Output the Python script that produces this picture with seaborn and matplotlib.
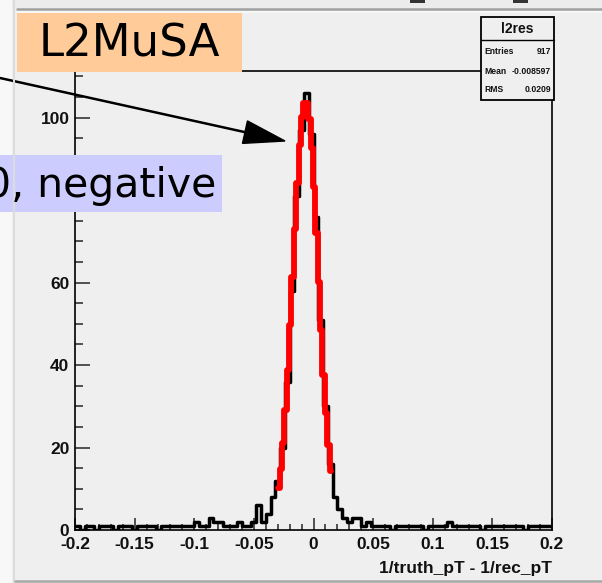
import numpy as np
import pandas as pd
import matplotlib
matplotlib.use("Agg")
import matplotlib.pyplot as plt
from matplotlib.patches import Rectangle
from matplotlib.ticker import MultipleLocator, FixedLocator
import seaborn as sns

# ---- histogram: 100 bins of width 0.004 on [-0.2, 0.2] ----
bin_edges_lo = -0.2
bin_edges_hi = 0.2
n_bins = 100

left_tail = [1, 0, 1, 1, 0, 1, 1, 1, 0, 1,
             1, 1, 0, 1, 1, 1, 1, 0, 1, 1,
             1, 1, 1, 1, 1, 2, 1, 1, 3, 2,
             2, 1, 1, 1, 2, 1, 1]
core = [2, 6, 2, 4, 8, 12, 20, 36, 58, 81,
        97, 106, 96, 76, 51, 30, 16, 8, 5, 3,
        2, 3, 3, 1, 2, 1]
right_tail = [1, 1, 1, 0, 1, 1, 1, 1, 1, 1,
              0, 1, 1, 1, 1, 2, 1, 1, 1, 1,
              1, 1, 0, 1, 1, 1, 1, 1, 1, 1,
              1, 0, 1, 1, 1, 1, 1]
counts = left_tail + core + right_tail

# gaussian fit result
fit_constant = 104.0
fit_mean = -0.0066
fit_sigma = 0.0106
fit_lo, fit_hi = -0.0295, 0.0160

# statistics box
stats_title = "l2res"
stats_rows = [("Entries", "917"), ("Mean", "-0.008597"), ("RMS", "0.0209")]

x_ticks = [-0.2, -0.15, -0.1, -0.05, 0, 0.05, 0.1, 0.15, 0.2]
x_tick_labels = ["-0.2", "-0.15", "-0.1", "-0.05", "0", "0.05", "0.1", "0.15", "0.2"]
y_ticks = [0, 20, 40, 60, 80, 100]
x_title = "1/truth_pT - 1/rec_pT"
tag_text = "L2MuSA"
sel_text = "0, negative"

W, H = 602, 583
BG = "#efefef"

sns.set_style("ticks")
plt.rcParams["font.family"] = ["Liberation Sans", "DejaVu Sans"]

fig = plt.figure(figsize=(W / 100, H / 100), dpi=100, facecolor=BG)

# frame in pixel units
fx0, fx1, fy0, fy1 = 75, 552, 71, 530
ax = fig.add_axes([fx0 / W, (H - fy1) / H, (fx1 - fx0) / W, (fy1 - fy0) / H])
ax.set_facecolor(BG)

bin_width = (bin_edges_hi - bin_edges_lo) / n_bins
centers = bin_edges_lo + bin_width * (np.arange(n_bins) + 0.5)
hist_df = pd.DataFrame({"x": centers, "n": np.asarray(counts, dtype=float)})
sns.histplot(data=hist_df, x="x", weights="n", bins=n_bins,
             binrange=(bin_edges_lo, bin_edges_hi), element="step", fill=False,
             color="black", linewidth=2.5, ax=ax, zorder=3)

fit_x = np.arange(fit_lo, fit_hi + 1e-9, 0.002)
fit_y = fit_constant * np.exp(-0.5 * ((fit_x - fit_mean) / fit_sigma) ** 2)
sns.lineplot(x=fit_x, y=fit_y, color="#ff0000", linewidth=4.2, drawstyle="steps-mid",
             estimator=None, sort=False, ax=ax, zorder=4)

ax.set_xlim(-0.2, 0.2)
ax.set_ylim(0, 111.3)
ax.set_xlabel("")
ax.set_ylabel("")

for s in ax.spines.values():
    s.set_color("black")
    s.set_linewidth(1.2)
    s.set_visible(True)

ax.xaxis.set_major_locator(FixedLocator(x_ticks))
ax.set_xticklabels(x_tick_labels)
ax.xaxis.set_minor_locator(MultipleLocator(0.01))
ax.yaxis.set_major_locator(FixedLocator(y_ticks))
ax.yaxis.set_minor_locator(MultipleLocator(5))
ax.tick_params(axis="x", which="major", direction="in", length=9, width=1.1,
               labelsize=12.5, pad=5, top=False)
ax.tick_params(axis="x", which="minor", direction="in", length=4.5, width=1.1, top=False)
ax.tick_params(axis="y", which="major", direction="in", length=11, width=1.1,
               labelsize=12.5, pad=4, right=False)
ax.tick_params(axis="y", which="minor", direction="in", length=6, width=1.1, right=False)
for lab in ax.get_xticklabels() + ax.get_yticklabels():
    lab.set_fontweight("bold")
    lab.set_color("#111111")

# overlay in pixel coordinates
ov = fig.add_axes([0, 0, 1, 1], zorder=10)
ov.set_xlim(0, W)
ov.set_ylim(H, 0)
ov.axis("off")
ov.patch.set_alpha(0)

ov.text(fx1, 568, x_title, ha="right", va="center", fontsize=12.5,
        fontweight="bold", color="#111111")

# window edges
ov.add_patch(Rectangle((0, 0), W, 8, fc="#ececec", ec="none"))
ov.add_patch(Rectangle((410, 0), 15, 2.5, fc="#333333", ec="none"))
ov.add_patch(Rectangle((513, 0), 15, 2.5, fc="#333333", ec="none"))
ov.plot([17, W], [8.5, 8.5], color="#a0a0a0", lw=1.8)
ov.add_patch(Rectangle((17, 10), W - 17, 3, fc="#f6f8f6", ec="none"))
ov.add_patch(Rectangle((0, 0), 12, H, fc="#f8f8f8", ec="none"))
ov.plot([14, 14], [0, H], color="#dcdcdc", lw=1.5)
ov.plot([15, W], [580.5, 580.5], color="#a8a8a8", lw=1.8)

# stats box
sx0, sy0, sw, sh = 481, 17, 73, 83
ov.add_patch(Rectangle((sx0, sy0), sw, sh, fc=BG, ec="black", lw=1.3))
ov.plot([sx0, sx0 + sw], [40, 40], color="black", lw=1.0)
ov.text(sx0 + sw / 2, 29, stats_title, ha="center", va="center", fontsize=10,
        fontweight="bold", color="#111111")
for (name, val), yy in zip(stats_rows, [52, 71, 90]):
    ov.text(sx0 + 3, yy, name, ha="left", va="center", fontsize=6.2,
            fontweight="bold", color="#111111")
    ov.text(sx0 + sw - 3, yy, val, ha="right", va="center", fontsize=6.2,
            fontweight="bold", color="#111111")

# annotation boxes and arrow
ov.add_patch(Rectangle((17, 13), 225, 59, fc="#ffcc99", ec="none"))
ov.text(39, 44, tag_text, ha="left", va="center", fontsize=32.5,
        family="DejaVu Sans", color="black")
ov.add_patch(Rectangle((0, 155), 222, 57, fc="#ccccff", ec="none"))
ov.text(216, 186, sel_text, ha="right", va="center", fontsize=29.5,
        family="DejaVu Sans", color="black")
ov.arrow(0, 78, 285, 63, width=1.1, head_width=23, head_length=41,
         length_includes_head=True, fc="black", ec="black")

fig.savefig("out.png", dpi=100, facecolor=BG)
